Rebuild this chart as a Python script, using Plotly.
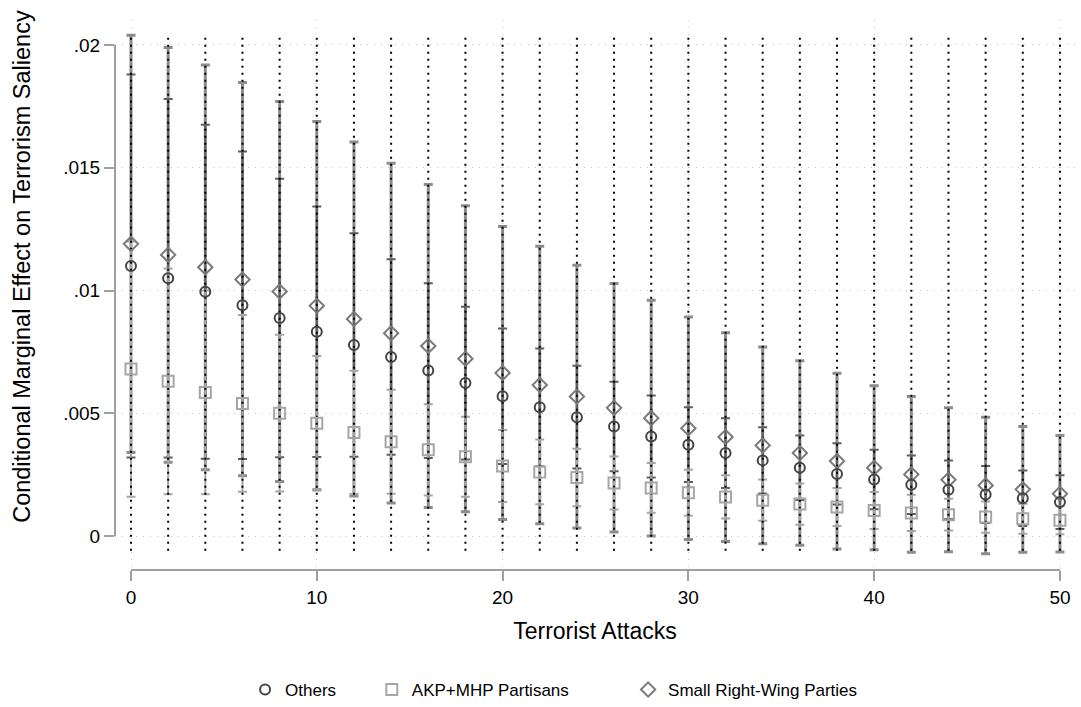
import plotly.graph_objects as go

# ---------------- data ----------------
attacks = [0, 2, 4, 6, 8, 10, 12, 14, 16, 18, 20, 22, 24, 26, 28, 30, 32, 34, 36, 38, 40, 42, 44, 46, 48, 50]

others_est = [.0110, .0105, .00995, .0094, .00888, .00832, .00778, .00729, .00674, .00623, .00569, .00524, .00484,
              .00446, .00405, .00372, .00338, .00308, .00278, .00253, .0023, .00209, .00188, .00169, .00154, .00138]
others_hi = [.0188, .0178, .01675, .01566, .01455, .01342, .01233, .01127, .0103, .00934, .00845, .00764, .00693,
             .00628, .00572, .00524, .0048, .00443, .00409, .00378, .00351, .00328, .00308, .00285, .00267, .00247]
others_lo = [.0032, .0032, .00315, .00314, .00321, .00322, .00323, .00331, .00318, .00312, .00293, .00284, .00275,
             .00264, .00238, .0022, .00196, .00173, .00147, .00128, .00109, .0009, .00068, .00053, .00041, .00029]

akp_est = [.0068, .0063, .00585, .0054, .0050, .00459, .00422, .00384, .00351, .00323, .00285, .00261, .00238,
           .00216, .00196, .00176, .00159, .00146, .0013, .00118, .00104, .00094, .00087, .00077, .0007, .00064]
akp_hi = [.0120, .0109, .0100, .0090, .0082, .00733, .00673, .00596, .00537, .00486, .00432, .00393, .00355,
          .00324, .00297, .0027, .00247, .0023, .00214, .00195, .00179, .00168, .00152, .00141, .00131, .00121]
akp_lo = [.0016, .0017, .0017, .0018, .00181, .00185, .00171, .00172, .00165, .0016, .00138, .00129, .00121,
          .00108, .00095, .00082, .00071, .00062, .00046, .00041, .00029, .0002, .00022, .00013, .00009, .00007]

srw_est = [.0119, .01145, .01095, .01045, .00996, .00938, .00884, .00826, .00774, .00722, .00664, .00615, .00568,
           .00522, .0048, .00439, .00403, .00369, .00338, .00305, .00278, .00251, .00229, .00206, .0019, .00172]
srw_hi = [.0204, .0199, .01918, .01847, .0177, .01688, .01605, .01518, .01432, .01345, .01261, .0118, .01103,
          .01028, .0096, .00892, .00828, .0077, .00714, .00663, .00612, .00568, .00522, .00484, .00446, .00409]
srw_lo = [.0034, .0030, .0027, .00245, .00222, .00188, .00163, .00134, .00116, .00099, .00067, .0005, .00033,
          .00016, .0000, -.00014, -.00022, -.00032, -.00038, -.00053, -.00056, -.00066, -.00064, -.00072, -.00066, -.00065]

spike_lo = [-.0006] * 26
spike_hi = [.0203] * 26

y_tickvals = [0, .005, .01, .015, .02]
y_ticktext = ["0", ".005", ".01", ".015", ".02"]
x_tickvals = [0, 10, 20, 30, 40, 50]

# name, estimate, lower, upper, symbol, size, marker colour, CI colour, CI thickness
series = [
    ("Small Right-Wing Parties", srw_est, srw_lo, srw_hi, "diamond-open", 11, "#7a7a7a", "#8c8c8c", 3),
    ("Others", others_est, others_lo, others_hi, "circle-open", 10, "#444444", "#5e5e5e", 2),
    ("AKP+MHP Partisans", akp_est, akp_lo, akp_hi, "square-open", 11, "#a6a6a6", "#a6a6a6", 2),
]

FONT = "Liberation Sans, Arial, sans-serif"
fig = go.Figure()

# confidence intervals (drawn first)
for name, est, lo, hi, sym, sz, col, ccol, th in series:
    fig.add_trace(go.Scatter(
        x=attacks, y=est, mode="markers",
        marker=dict(size=2, opacity=0, color=col),
        error_y=dict(type="data", symmetric=False,
                     array=[h - e for h, e in zip(hi, est)],
                     arrayminus=[e - l for e, l in zip(est, lo)],
                     color=ccol, thickness=th, width=4.5),
        showlegend=False, hoverinfo="skip"))

# dotted vertical spikes
sx, sy = [], []
for xv, lo, hi in zip(attacks, spike_lo, spike_hi):
    sx += [xv, xv, None]
    sy += [lo, hi, None]
fig.add_trace(go.Scatter(x=sx, y=sy, mode="lines",
                         line=dict(color="black", width=2, dash="2px,5px"),
                         showlegend=False, hoverinfo="skip"))

# point estimates
legend_ids = {"Others": "legend", "AKP+MHP Partisans": "legend2", "Small Right-Wing Parties": "legend3"}
for name, est, lo, hi, sym, sz, col, ccol, th in series:
    fig.add_trace(go.Scatter(
        x=attacks, y=est, mode="markers", name=name,
        marker=dict(symbol=sym, size=sz, color=col, line=dict(width=2, color=col)),
        legend=legend_ids[name]))

leg_common = dict(orientation="h", yanchor="middle", xanchor="left",
                  font=dict(family=FONT, size=17, color="black"),
                  bgcolor="rgba(0,0,0,0)", borderwidth=0)

LY = -0.218
fig.update_layout(
    width=1081, height=707,
    margin=dict(l=115, r=6, t=20, b=137, autoexpand=False),
    paper_bgcolor="white", plot_bgcolor="white",
    font=dict(family=FONT, color="black"),
    legend=dict(x=0.1355, y=LY, **leg_common),
    legend2=dict(x=0.2675, y=LY, **leg_common),
    legend3=dict(x=0.5345, y=LY, **leg_common),
    xaxis=dict(range=[-0.861, 50.81], tickvals=x_tickvals, ticks="outside", ticklen=10,
               tickcolor="#a0a0a0", tickwidth=1.5, tickfont=dict(size=19),
               showline=False, zeroline=False,
               showgrid=True, gridcolor="#c8c8c8", gridwidth=1, griddash="1px,6px",
               title=dict(text="Terrorist Attacks", font=dict(size=23), standoff=16)),
    yaxis=dict(range=[-0.001385, 0.021018], tickvals=y_tickvals, ticktext=y_ticktext,
               ticks="outside", ticklen=10, tickcolor="#a0a0a0", tickwidth=1.5,
               tickfont=dict(size=19), showline=False, zeroline=False,
               showgrid=True, gridcolor="#c8c8c8", gridwidth=1, griddash="1px,6px"),
    annotations=[
        dict(text="Conditional Marginal Effect on Terrorism Saliency", textangle=-90,
             xref="paper", yref="paper", x=-0.0969, y=0.553, xanchor="center", yanchor="middle",
             showarrow=False, font=dict(family=FONT, size=23.5, color="black")),
    ],
    shapes=[
        dict(type="line", xref="x", yref="paper", x0=0, x1=50, y0=0, y1=0,
             line=dict(color="#a0a0a0", width=2)),
        dict(type="line", xref="paper", yref="y", x0=0, x1=0, y0=0, y1=0.02,
             line=dict(color="#a0a0a0", width=2)),
    ],
)

fig.write_html("out.html")
